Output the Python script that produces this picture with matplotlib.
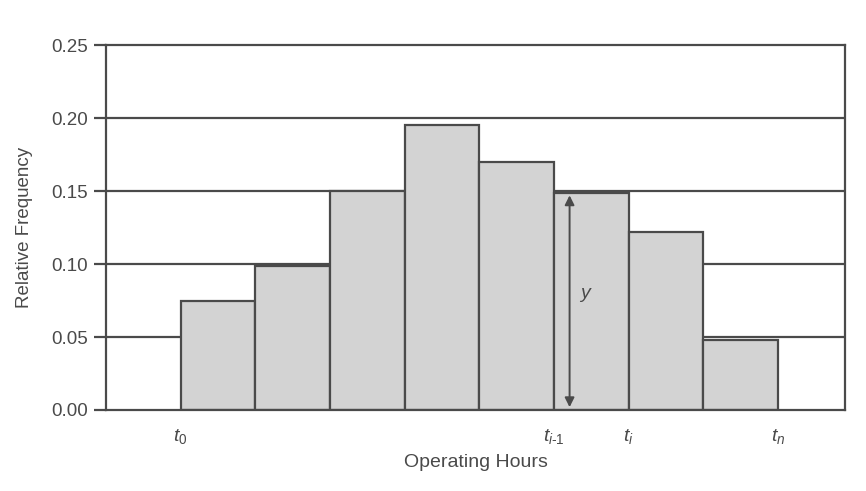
import matplotlib
matplotlib.use("Agg")
import matplotlib.pyplot as plt

# relative frequency per operating-hour bin
bins = [0, 1, 2, 3, 4, 5, 6, 7]
freq = [0.075, 0.099, 0.150, 0.195, 0.170, 0.149, 0.122, 0.048]
yticks = [0.00, 0.05, 0.10, 0.15, 0.20, 0.25]
edge_ticks = [0, 5, 6, 8]
edge_labels = [r"$t_0$", r"$t_{i\text{-}1}$", r"$t_i$", r"$t_n$"]

INK = "#4a4a4a"
FILL = "#d3d3d3"

plt.rcParams["font.family"] = ["Liberation Sans", "DejaVu Sans"]
plt.rcParams["mathtext.fontset"] = "custom"
plt.rcParams["mathtext.it"] = "Liberation Sans:italic"
plt.rcParams["mathtext.rm"] = "Liberation Sans"

fig = plt.figure(figsize=(8.66, 4.91), dpi=100, facecolor="white")
ax = fig.add_axes([0.1224, 0.165, 0.8534, 0.743])

for y in yticks[1:-1]:
    ax.axhline(y, color=INK, lw=1.6, zorder=1)

ax.bar(bins, freq, width=1.0, align="edge", color=FILL, edgecolor=INK, linewidth=1.6, zorder=2)

# the "y" height marker on the t_{i-1}..t_i bin
i = 5
ax.annotate("", xy=(i + 0.21, freq[i]), xytext=(i + 0.21, 0),
            arrowprops=dict(arrowstyle="<|-|>", color=INK, lw=1.4, mutation_scale=14), zorder=3)
ax.text(i + 0.42, freq[i] / 2 + 0.005, "y", style="italic", fontsize=14, color=INK, ha="center", va="center", zorder=3)

ax.set_xlim(-1, 8.9)
ax.set_ylim(0, 0.25)
ax.set_yticks(yticks)
ax.set_yticklabels([f"{v:.2f}" for v in yticks])
ax.set_xticks(edge_ticks)
ax.set_xticklabels(edge_labels)

ax.tick_params(axis="y", direction="out", length=9, width=1.6, color=INK, labelsize=13.5, labelcolor=INK, pad=4)
ax.tick_params(axis="x", length=0, labelsize=14, labelcolor=INK, pad=12)

for s in ax.spines.values():
    s.set_color(INK)
    s.set_linewidth(1.6)

ax.set_ylabel("Relative Frequency", fontsize=13.5, color=INK, labelpad=13)
ax.set_xlabel("Operating Hours", fontsize=14, color=INK, labelpad=6)

fig.savefig("out.png", dpi=100)
